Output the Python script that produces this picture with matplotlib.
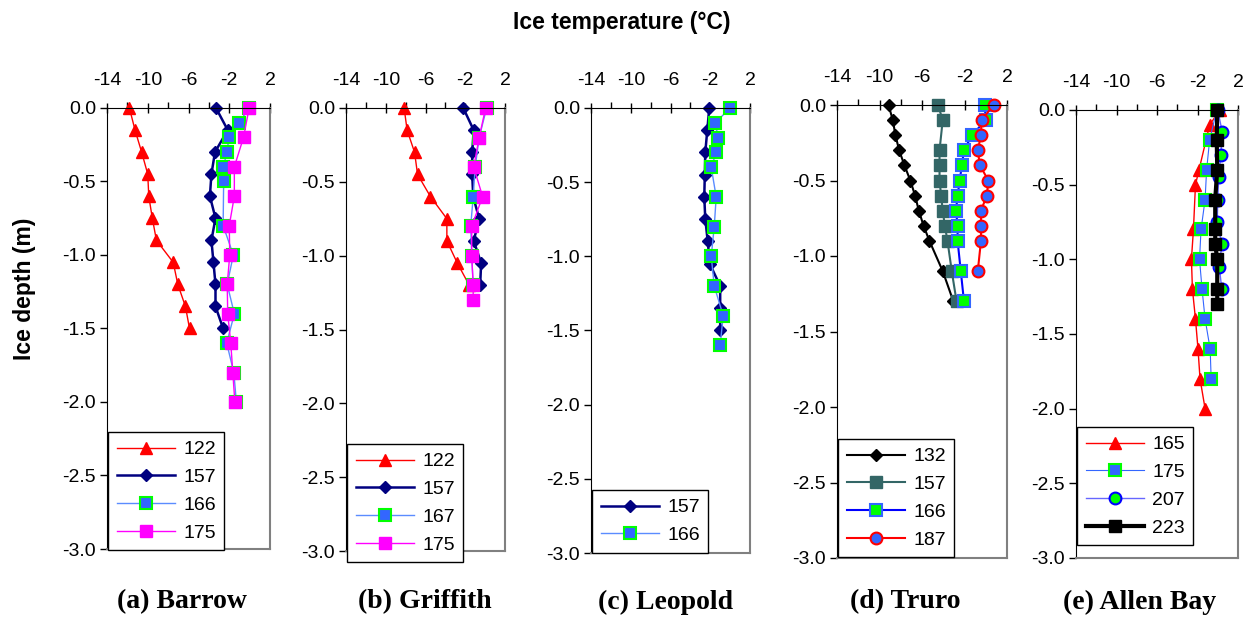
import matplotlib
matplotlib.use("Agg")
import matplotlib.pyplot as plt
from matplotlib.ticker import MultipleLocator, FixedLocator

plt.rcParams['font.family'] = ['Liberation Sans', 'DejaVu Sans']
plt.rcParams['axes.unicode_minus'] = False

# ---- data: ice temperature (degC) vs depth (m), per site and day of year ----
# (a) Barrow
barrow_122_d = [0, -0.15, -0.3, -0.45, -0.6, -0.75, -0.9, -1.05, -1.2, -1.35, -1.5]
barrow_122_t = [-11.8, -11.25, -10.6, -10.0, -9.9, -9.55, -9.15, -7.5, -7.05, -6.3, -5.9]
barrow_157_d = [0, -0.15, -0.3, -0.45, -0.6, -0.75, -0.9, -1.05, -1.2, -1.35, -1.5]
barrow_157_t = [-3.3, -2.15, -3.4, -3.75, -3.9, -3.35, -3.75, -3.55, -3.35, -3.35, -2.6]
barrow_166_d = [0, -0.1, -0.2, -0.3, -0.4, -0.5, -0.8, -1.0, -1.2, -1.4, -1.6, -1.8, -2.0]
barrow_166_t = [-0.1, -1.0, -2.05, -2.2, -2.6, -2.55, -2.6, -1.6, -2.2, -1.5, -2.25, -1.55, -1.3]
barrow_175_d = [0, -0.2, -0.4, -0.6, -0.8, -1.0, -1.2, -1.4, -1.6, -1.8, -2.0]
barrow_175_t = [-0.05, -0.6, -1.5, -1.5, -2.0, -1.95, -2.2, -2.15, -1.85, -1.65, -1.45]

# (b) Griffith
griffith_122_d = [0, -0.15, -0.3, -0.45, -0.6, -0.75, -0.9, -1.05, -1.2]
griffith_122_t = [-8.15, -7.85, -7.1, -6.8, -5.5, -3.85, -3.85, -2.8, -1.6]
griffith_157_d = [0, -0.15, -0.3, -0.45, -0.6, -0.75, -0.9, -1.05, -1.2]
griffith_157_t = [-2.2, -1.15, -1.3, -1.3, -1.2, -0.6, -1.15, -0.4, -0.5]
griffith_167_d = [0, -0.2, -0.4, -0.6, -0.8, -1.0, -1.2]
griffith_167_t = [0.15, -0.6, -1.0, -1.2, -1.45, -1.35, -1.2]
griffith_175_d = [0, -0.2, -0.4, -0.6, -0.8, -1.0, -1.2, -1.3]
griffith_175_t = [0.05, -0.6, -1.15, -0.25, -1.35, -1.35, -1.2, -1.2]

# (c) Leopold
leopold_157_d = [0, -0.15, -0.3, -0.45, -0.6, -0.75, -0.9, -1.05, -1.2, -1.35, -1.5]
leopold_157_t = [-2.1, -2.3, -2.5, -2.55, -2.6, -2.5, -2.25, -2.05, -1.0, -1.0, -1.0]
leopold_166_d = [0, -0.1, -0.2, -0.3, -0.4, -0.6, -0.8, -1.0, -1.2, -1.4, -1.6]
leopold_166_t = [0.0, -1.5, -1.2, -1.4, -1.9, -1.4, -1.6, -1.9, -1.6, -0.7, -1.0]

# (d) Truro
truro_132_d = [0, -0.1, -0.2, -0.3, -0.4, -0.5, -0.6, -0.7, -0.8, -0.9, -1.1, -1.3]
truro_132_t = [-9.15, -8.75, -8.5, -8.15, -7.65, -7.1, -6.65, -6.3, -5.85, -5.3, -4.05, -3.05]
truro_157_d = [0, -0.1, -0.3, -0.4, -0.5, -0.6, -0.7, -0.8, -0.9, -1.1, -1.3]
truro_157_t = [-4.5, -4.05, -4.35, -4.35, -4.35, -4.2, -4.05, -3.85, -3.6, -3.2, -2.75]
truro_166_d = [0, -0.1, -0.2, -0.3, -0.4, -0.5, -0.6, -0.7, -0.8, -0.9, -1.1, -1.3]
truro_166_t = [-0.1, 0.0, -1.3, -2.05, -2.25, -2.45, -2.65, -2.8, -2.65, -2.65, -2.35, -2.05]
truro_187_d = [0, -0.1, -0.2, -0.3, -0.4, -0.5, -0.6, -0.7, -0.8, -0.9, -1.1]
truro_187_t = [0.75, -0.4, -0.45, -0.75, -0.55, 0.25, 0.1, -0.45, -0.45, -0.45, -0.75]

# (e) Allen Bay
allen_165_d = [0, -0.1, -0.4, -0.5, -0.8, -1.0, -1.2, -1.4, -1.6, -1.8, -2.0]
allen_165_t = [0.2, -0.8, -1.85, -2.2, -2.4, -2.6, -2.5, -2.2, -1.95, -1.75, -1.25]
allen_175_d = [0, -0.2, -0.4, -0.6, -0.8, -1.0, -1.2, -1.4, -1.6, -1.8]
allen_175_t = [-0.1, -0.8, -1.1, -1.25, -1.65, -1.8, -1.55, -1.25, -0.75, -0.65]
allen_207_d = [0, -0.15, -0.3, -0.45, -0.6, -0.75, -0.9, -1.05, -1.2]
allen_207_t = [0.0, 0.45, 0.3, 0.1, 0.0, -0.05, 0.4, 0.15, 0.4]
allen_223_d = [0, -0.2, -0.4, -0.6, -0.8, -0.9, -1.0, -1.2, -1.3]
allen_223_t = [-0.05, -0.1, -0.05, -0.25, -0.25, -0.25, -0.05, -0.05, -0.05]

site_labels = ['(a) Barrow', '(b) Griffith', '(c) Leopold', '(d) Truro', '(e) Allen Bay']
x_ticks = [-14, -10, -6, -2, 2]

# series styles
RED = dict(color='#FF0000', lw=1, marker='^', ms=9, mfc='#FF0000', mec='#FF0000')
NAVY = dict(color='#000080', lw=1.8, marker='D', ms=6.5, mfc='#000080', mec='#000080')
BLUESQ = dict(color='#5B8CFF', lw=1, marker='s', ms=8, mfc='#3366FF', mec='#00FF00', mew=1.5)
PINK = dict(color='#FF00FF', lw=1, marker='s', ms=8.5, mfc='#FF00FF', mec='#FF00FF')
BLACKD = dict(color='#000000', lw=1.5, marker='D', ms=6.5, mfc='#000000', mec='#000000')
SLATE = dict(color='#336666', lw=1.5, marker='s', ms=8.5, mfc='#336666', mec='#336666')
GREENSQ = dict(color='#0000FF', lw=1.5, marker='s', ms=8, mfc='#00FF00', mec='#3366FF', mew=1.5)
REDCIRC = dict(color='#FF0000', lw=1.5, marker='o', ms=8.5, mfc='#3366FF', mec='#FF0000', mew=1.5)
BLUESQ2 = dict(color='#3366FF', lw=0.8, marker='s', ms=8, mfc='#3366FF', mec='#00FF00', mew=1.5)
GREENCIRC = dict(color='#6666FF', lw=1, marker='o', ms=8.5, mfc='#00FF00', mec='#0000FF', mew=1.5)
BLACKSQ = dict(color='#000000', lw=3, marker='s', ms=8.5, mfc='#000000', mec='#000000')

panels = [
    [(barrow_122_t, barrow_122_d, '122', RED),
     (barrow_157_t, barrow_157_d, '157', NAVY),
     (barrow_166_t, barrow_166_d, '166', BLUESQ),
     (barrow_175_t, barrow_175_d, '175', PINK)],
    [(griffith_122_t, griffith_122_d, '122', RED),
     (griffith_157_t, griffith_157_d, '157', NAVY),
     (griffith_167_t, griffith_167_d, '167', BLUESQ),
     (griffith_175_t, griffith_175_d, '175', PINK)],
    [(leopold_157_t, leopold_157_d, '157', NAVY),
     (leopold_166_t, leopold_166_d, '166', BLUESQ)],
    [(truro_132_t, truro_132_d, '132', BLACKD),
     (truro_157_t, truro_157_d, '157', SLATE),
     (truro_166_t, truro_166_d, '166', GREENSQ),
     (truro_187_t, truro_187_d, '187', REDCIRC)],
    [(allen_165_t, allen_165_d, '165', RED),
     (allen_175_t, allen_175_d, '175', BLUESQ2),
     (allen_207_t, allen_207_d, '207', GREENCIRC),
     (allen_223_t, allen_223_d, '223', BLACKSQ)],
]

W, H = 1247, 618
# axes boxes in pixels: left, right, top, bottom
boxes = [(107, 270, 108, 549), (346, 505, 108, 551), (591, 750, 108, 553),
         (837, 1007, 105, 558), (1076, 1238, 110, 558)]
legend_tops = [432, 444, 490, 439, 427]
label_x = [182, 425, 666, 905, 1140]

fig = plt.figure(figsize=(W / 100, H / 100), dpi=100)

for i, (series, (l, r, t, b)) in enumerate(zip(panels, boxes)):
    ax = fig.add_axes([l / W, (H - b) / H, (r - l) / W, (b - t) / H])
    for x, y, name, st in series:
        ax.plot(x, y, label=name, clip_on=False, **st)
    ax.set_xlim(-14, 2)
    ax.set_ylim(-3.0, 0.0)
    ax.xaxis.set_major_locator(FixedLocator(x_ticks))
    ax.xaxis.set_minor_locator(MultipleLocator(2))
    ax.yaxis.set_major_locator(MultipleLocator(0.5))
    ax.yaxis.set_major_formatter(plt.FormatStrFormatter('%.1f'))
    ax.xaxis.tick_top()
    ax.tick_params(axis='x', which='major', direction='inout', length=7, width=1,
                   labelsize=14, pad=10)
    ax.tick_params(axis='x', which='minor', direction='out', length=4, width=1)
    ax.tick_params(axis='y', direction='out', length=5, width=1, labelsize=14, pad=3)
    ax.spines['left'].set_color('black')
    ax.spines['top'].set_color('black')
    ax.spines['right'].set_color('#808080')
    ax.spines['bottom'].set_color('#808080')
    ax.spines['right'].set_linewidth(1.5)
    ax.spines['bottom'].set_linewidth(1.5)

    leg = ax.legend(loc='upper left', bbox_to_anchor=(l / W + 0.001, (H - legend_tops[i]) / H),
                    bbox_transform=fig.transFigure, borderaxespad=0, fancybox=False,
                    framealpha=1, edgecolor='black', fontsize=14, handlelength=3.0,
                    labelspacing=0.52, borderpad=0.45, handletextpad=0.4)
    leg.get_frame().set_linewidth(1)

    fig.text(label_x[i] / W, 1 - 602 / H, site_labels[i], ha='center', va='center',
             fontsize=20, fontweight='bold', family='Liberation Serif')

fig.text(622 / W, 1 - 22 / H, 'Ice temperature (°C)', ha='center', va='center',
         fontsize=16.5, fontweight='bold')
fig.text(25 / W, 1 - 289 / H, 'Ice depth (m)', ha='center', va='center',
         rotation=90, fontsize=16.5, fontweight='bold')

fig.savefig('out.png', dpi=100)
